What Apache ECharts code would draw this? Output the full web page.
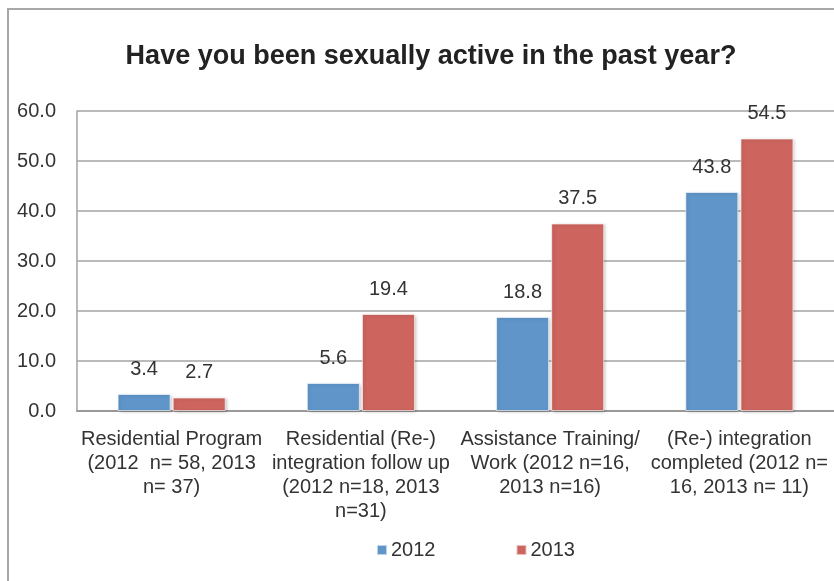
<!DOCTYPE html>
<html>
<head>
<meta charset="utf-8">
<script src="https://cdn.jsdelivr.net/npm/echarts@6/dist/echarts.min.js"></script>
<style>
  html, body { margin: 0; padding: 0; background: #ffffff; }
  #chart { width: 834px; height: 581px; }
</style>
</head>
<body>
<div id="chart"></div>
<script>
// Survey groups (with sample sizes) shown along the x axis
const categories = [
  'Residential Program\n(2012  n= 58, 2013\nn= 37)',
  'Residential (Re-)\nintegration follow up\n(2012 n=18, 2013\nn=31)',
  'Assistance Training/\nWork (2012 n=16,\n2013 n=16)',
  '(Re-) integration\ncompleted (2012 n=\n16, 2013 n= 11)'
];
// Percentage answering "yes" per year
const values2012 = [3.4, 5.6, 18.8, 43.8];
const values2013 = [2.7, 19.4, 37.5, 54.5];
const seriesNames = ['2012', '2013'];

const FONT = '"Liberation Sans", Arial, sans-serif';
const TEXT = '#333333';
const GRID = '#a3a3a3';

const chart = echarts.init(document.getElementById('chart'), null, { renderer: 'canvas' });

const barStyle = (color) => ({
  color: color,
  borderColor: 'rgba(255,255,255,0.6)',
  borderWidth: 1,
  shadowColor: 'rgba(0,0,0,0.22)',
  shadowBlur: 3,
  shadowOffsetX: 1.5,
  shadowOffsetY: 1
});

const valueLabel = {
  show: true,
  position: 'top',
  distance: 15,
  fontFamily: FONT,
  fontSize: 20,
  color: TEXT,
  formatter: (p) => p.value.toFixed(1)
};

chart.setOption({
  animation: false,
  backgroundColor: '#ffffff',
  graphic: [{
    type: 'rect',
    shape: { x: 8, y: 9, width: 900, height: 700 },
    style: { fill: 'none', stroke: '#a8a8a8', lineWidth: 2 },
    silent: true,
    z: 0
  }],
  title: {
    text: 'Have you been sexually active in the past year?',
    left: 426,
    top: 38,
    textAlign: 'center',
    textStyle: { fontFamily: FONT, fontSize: 27, fontWeight: 'bold', color: '#222222' }
  },
  legend: {
    data: seriesNames,
    left: 371,
    top: 535,
    itemWidth: 10,
    itemHeight: 10,
    itemGap: 80,
    icon: 'rect',
    textStyle: { fontFamily: FONT, fontSize: 20, color: TEXT, padding: [0, 0, 0, -1] }
  },
  grid: { left: 77, right: -5, top: 111, bottom: 170, containLabel: false },
  xAxis: {
    type: 'category',
    data: categories,
    axisLine: { show: true, lineStyle: { color: '#999999', width: 2 } },
    axisTick: { show: false },
    axisLabel: {
      interval: 0,
      margin: 16,
      fontFamily: FONT,
      fontSize: 20,
      lineHeight: 24,
      color: TEXT,
      align: 'center'
    }
  },
  yAxis: {
    type: 'value',
    min: 0,
    max: 60,
    interval: 10,
    axisLine: { show: true, lineStyle: { color: GRID, width: 1.5 } },
    axisTick: { show: false },
    splitLine: { show: true, lineStyle: { color: GRID, width: 1.5 } },
    axisLabel: {
      margin: 21,
      fontFamily: FONT,
      fontSize: 20,
      color: TEXT,
      formatter: (v) => v.toFixed(1)
    }
  },
  series: [
    {
      name: seriesNames[0],
      type: 'bar',
      data: values2012,
      barWidth: 53,
      barGap: '4%',
      itemStyle: barStyle('#5f95c9'),
      label: valueLabel
    },
    {
      name: seriesNames[1],
      type: 'bar',
      data: values2013,
      barWidth: 53,
      barGap: '4%',
      itemStyle: barStyle('#cd645e'),
      label: valueLabel
    }
  ]
});
</script>
</body>
</html>
